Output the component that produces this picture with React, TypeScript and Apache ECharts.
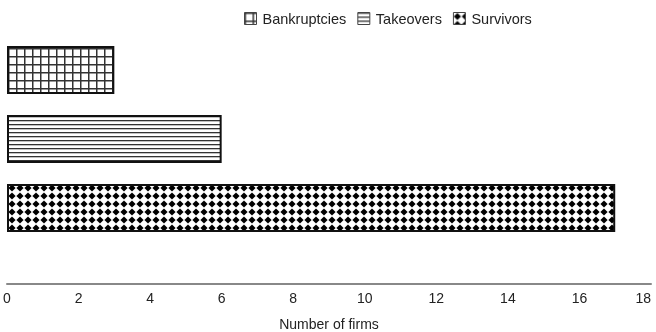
import React, { useEffect, useRef } from "react";
import * as echarts from "echarts";

const categories = ["Survivors", "Takeovers", "Bankruptcies"];
const seriesNames = ["Bankruptcies", "Takeovers", "Survivors"];
const values = [3, 6, 17];
const xTicks = [0, 2, 4, 6, 8, 10, 12, 14, 16, 18];

function makeCanvas(w: number, h: number, draw: (ctx: CanvasRenderingContext2D) => void) {
  const c = document.createElement("canvas");
  c.width = w;
  c.height = h;
  const ctx = c.getContext("2d")!;
  ctx.fillStyle = "#fff";
  ctx.fillRect(0, 0, w, h);
  draw(ctx);
  return c;
}

function gridPattern() {
  const c = makeCanvas(8, 8, (ctx) => {
    ctx.fillStyle = "#333";
    ctx.fillRect(0, 0, 8, 1.5);
    ctx.fillRect(0, 0, 1.5, 8);
  });
  return { image: c, repeat: "repeat", imageWidth: 8, imageHeight: 8 };
}

function stripePattern() {
  const c = makeCanvas(4, 4, (ctx) => {
    ctx.fillStyle = "#333";
    ctx.fillRect(0, 0, 4, 1.3);
  });
  return { image: c, repeat: "repeat", imageWidth: 4, imageHeight: 4 };
}

function diamondPattern() {
  const c = makeCanvas(8, 8, (ctx) => {
    ctx.fillStyle = "#000";
    ctx.beginPath();
    ctx.moveTo(4, 0.4);
    ctx.lineTo(7.6, 4);
    ctx.lineTo(4, 7.6);
    ctx.lineTo(0.4, 4);
    ctx.closePath();
    ctx.fill();
  });
  return { image: c, repeat: "repeat", imageWidth: 8, imageHeight: 8 };
}

const narrow = "'Liberation Sans Narrow', 'Liberation Sans', Arial, sans-serif";
const sans = "'Liberation Sans', Arial, sans-serif";

export default function App() {
  const ref = useRef<HTMLDivElement>(null);
  useEffect(() => {
    if (!ref.current) return;
    const chart = echarts.init(ref.current, undefined, { renderer: "svg" });
    const patterns = [gridPattern(), stripePattern(), diamondPattern()];
    const series = seriesNames.map((name, i) => {
      const data = categories.map((c) => (c === name ? values[i] : null));
      return {
        name,
        type: "bar",
        stack: "all",
        barWidth: 48,
        data,
        itemStyle: {
          color: patterns[i] as any,
          borderColor: "#111",
          borderWidth: 2,
        },
      };
    });
    chart.setOption({
      animation: false,
      textStyle: { fontFamily: sans },
      legend: {
        top: 6,
        left: 239,
        icon: "rect",
        itemWidth: 12,
        itemHeight: 12,
        itemGap: 11,
        itemStyle: { borderWidth: 1, borderColor: "#444" },
        textStyle: { fontSize: 14.5, color: "#222", fontFamily: sans, padding: [0, 0, 0, 1] },
        data: seriesNames,
      },
      grid: {
        left: 7,
        right: 5,
        top: 35.5,
        bottom: 89.5,
        containLabel: false,
        outerBoundsMode: "none",
      },
      xAxis: {
        type: "value",
        min: 0,
        max: 18,
        interval: 2,
        offset: 41.5,
        name: "Number of firms",
        nameLocation: "middle",
        nameGap: 33,
        nameTextStyle: { fontSize: 14, color: "#222", fontFamily: narrow },
        axisLine: { show: true, lineStyle: { color: "#888", width: 2 } },
        axisTick: { show: false },
        splitLine: { show: false },
        axisLabel: {
          fontSize: 14,
          color: "#222",
          fontFamily: narrow,
          margin: 7,
          alignMaxLabel: "right",
          formatter: (v: number) => (xTicks.includes(v) ? String(v) : ""),
        },
      },
      yAxis: {
        type: "category",
        data: categories,
        axisLine: { show: false },
        axisTick: { show: false },
        axisLabel: { show: false },
      },
      series,
    });
    return () => chart.dispose();
  }, []);
  return (
    <div
      ref={ref}
      style={{ position: "fixed", left: 0, top: 0, width: 656, height: 332 }}
    />
  );
}
